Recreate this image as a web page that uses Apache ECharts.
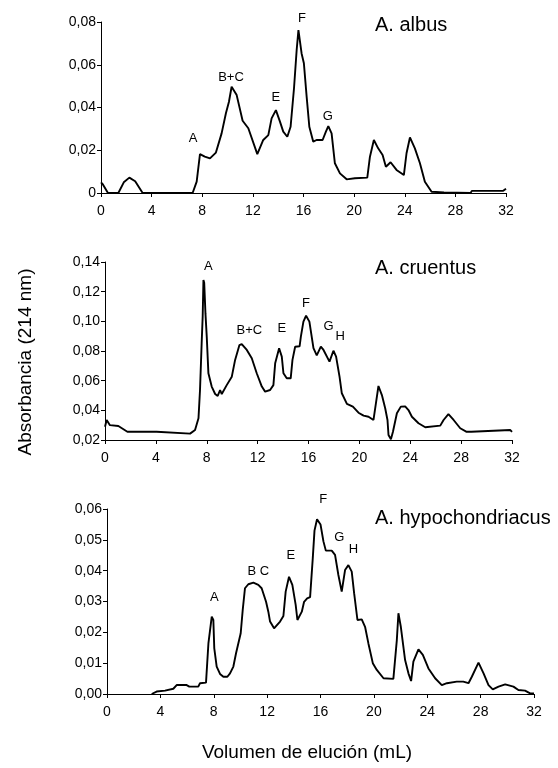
<!DOCTYPE html>
<html>
<head>
<meta charset="utf-8">
<script src="https://cdn.jsdelivr.net/npm/echarts@6/dist/echarts.min.js"></script>
<style>
  html, body { margin: 0; padding: 0; background: #fff; }
  #chart { width: 558px; height: 768px; }
</style>
</head>
<body>
<div id="chart"></div>
<script>
// elution volume (mL) and absorbance
var albusX = [0, 0.15, 0.55, 1.37, 1.8, 2.24, 2.7, 3.29, 7.24, 7.56, 7.82, 7.95, 8.2, 8.61, 9.08, 9.53, 9.87, 10.11, 10.32, 10.45, 10.72, 11.19, 11.64, 12.35, 12.82, 13.22, 13.48, 13.82, 14.14, 14.4, 14.72, 14.98, 15.25, 15.46, 15.6, 15.85, 16.03, 16.25, 16.46, 16.77, 17.03, 17.51, 17.77, 17.96, 18.22, 18.48, 18.88, 19.41, 20.06, 21.04, 21.25, 21.56, 21.9, 22.25, 22.51, 22.88, 23.35, 23.93, 24.14, 24.41, 24.8, 25.2, 25.59, 26.12, 27.1, 29.2, 29.3, 31.78, 32];
var albusY = [0.005, 0.004, 0, 0, 0.005, 0.0072, 0.0055, 0, 0, 0.0053, 0.0182, 0.0183, 0.017, 0.0162, 0.0189, 0.0279, 0.0373, 0.0427, 0.0497, 0.05, 0.0458, 0.0338, 0.0303, 0.0182, 0.0248, 0.0271, 0.0349, 0.0388, 0.0334, 0.0287, 0.0263, 0.031, 0.049, 0.0669, 0.0762, 0.0653, 0.0607, 0.045, 0.031, 0.024, 0.0248, 0.0248, 0.0287, 0.0313, 0.0279, 0.0139, 0.0092, 0.0064, 0.0069, 0.0072, 0.017, 0.0248, 0.0209, 0.0178, 0.0123, 0.0144, 0.0108, 0.0084, 0.0186, 0.026, 0.0209, 0.0139, 0.0053, 0.0006, 0.0003, 0, 0.001, 0.001, 0.002];

var cruentusX = [0, 0.13, 0.39, 1.05, 1.18, 1.76, 4.06, 4.2, 6.69, 7.08, 7.35, 7.47, 7.6, 7.68, 7.74, 7.8, 7.87, 7.9, 8.0, 8.13, 8.39, 8.66, 8.86, 9.05, 9.18, 9.57, 9.97, 10.23, 10.57, 10.75, 11.15, 11.54, 11.93, 12.33, 12.59, 12.98, 13.24, 13.38, 13.69, 13.9, 14.03, 14.29, 14.6, 14.74, 14.95, 15.3, 15.4, 15.6, 15.81, 16.07, 16.39, 16.65, 16.97, 17.18, 17.65, 17.96, 18.17, 18.44, 18.62, 19.02, 19.49, 19.93, 20.33, 20.72, 21.11, 21.3, 21.5, 21.77, 22.03, 22.21, 22.29, 22.48, 22.64, 22.95, 23.26, 23.6, 23.86, 24.13, 24.65, 25.18, 26.36, 26.62, 27.0, 27.41, 27.93, 28.4, 28.8, 28.93, 31.87, 32];
var cruentusY = [0.029, 0.0335, 0.03, 0.0294, 0.0286, 0.0256, 0.0256, 0.0243, 0.0243, 0.0267, 0.0346, 0.0537, 0.0852, 0.1032, 0.1279, 0.126, 0.1268, 0.105, 0.0897, 0.065, 0.056, 0.051, 0.0497, 0.0537, 0.051, 0.057, 0.0627, 0.074, 0.084, 0.0847, 0.0807, 0.0751, 0.065, 0.056, 0.0526, 0.0537, 0.057, 0.0717, 0.0818, 0.0762, 0.065, 0.0616, 0.0616, 0.074, 0.0829, 0.0832, 0.0897, 0.0998, 0.1038, 0.0998, 0.082, 0.077, 0.0829, 0.0807, 0.0728, 0.0802, 0.0762, 0.0627, 0.0515, 0.0443, 0.0425, 0.0384, 0.0364, 0.0357, 0.0335, 0.0447, 0.0564, 0.0503, 0.0414, 0.0335, 0.0234, 0.0205, 0.0256, 0.038, 0.0425, 0.0427, 0.0402, 0.0357, 0.0313, 0.0286, 0.0297, 0.0335, 0.0375, 0.0335, 0.0279, 0.0256, 0.0256, 0.0267, 0.0267, 0.0255];

var hypoX = [3.35, 3.72, 4.35, 4.47, 4.97, 5.22, 5.97, 6.17, 6.84, 6.97, 7.1, 7.42, 7.6, 7.85, 7.97, 8.04, 8.22, 8.47, 8.72, 9.02, 9.22, 9.47, 9.67, 10.02, 10.17, 10.34, 10.59, 10.97, 11.34, 11.59, 11.92, 12.09, 12.22, 12.52, 12.97, 13.22, 13.39, 13.64, 13.89, 14.14, 14.27, 14.4, 14.6, 14.77, 15.0, 15.22, 15.42, 15.55, 15.74, 16.0, 16.22, 16.4, 16.84, 17.09, 17.34, 17.59, 17.84, 18.09, 18.34, 18.52, 18.77, 19.09, 19.34, 19.59, 19.92, 20.22, 20.72, 21.46, 21.72, 21.84, 22.02, 22.34, 22.59, 22.79, 22.96, 23.34, 23.67, 24.09, 24.59, 25.09, 25.47, 26.21, 26.7, 27.09, 27.34, 27.84, 28.22, 28.59, 28.91, 29.34, 29.84, 30.46, 30.83, 31.33, 31.71, 32];
var hypoY = [0, 0.0008, 0.0011, 0.0016, 0.0017, 0.0029, 0.0029, 0.0024, 0.0024, 0.0035, 0.0029, 0.0037, 0.0164, 0.0251, 0.024, 0.0148, 0.0089, 0.0065, 0.0056, 0.0056, 0.0067, 0.0089, 0.0132, 0.0197, 0.0272, 0.0343, 0.0356, 0.0361, 0.0354, 0.0343, 0.0299, 0.0267, 0.0235, 0.0213, 0.0235, 0.0253, 0.0332, 0.038, 0.0354, 0.0289, 0.024, 0.024, 0.0267, 0.0299, 0.031, 0.0314, 0.044, 0.053, 0.0567, 0.055, 0.0495, 0.0465, 0.0465, 0.0451, 0.0386, 0.0332, 0.0402, 0.0418, 0.0397, 0.0327, 0.024, 0.0242, 0.0218, 0.0164, 0.01, 0.0078, 0.0051, 0.0049, 0.0175, 0.0262, 0.0218, 0.011, 0.0067, 0.0042, 0.0105, 0.0145, 0.0127, 0.0083, 0.0051, 0.0029, 0.0035, 0.004, 0.004, 0.0035, 0.0056, 0.0102, 0.0067, 0.0029, 0.0015, 0.0024, 0.0031, 0.0024, 0.0013, 0.0011, 0.0002, 0.0002];

// peak letters: [label, volume, absorbance]
var albusPeaks = [['A', 7.27, 0.0257], ['B+C', 10.27, 0.0543], ['E', 13.82, 0.0449], ['F', 15.87, 0.0819], ['G', 17.93, 0.0356]];
var cruentusPeaks = [['A', 8.13, 0.1369], ['B+C', 11.35, 0.0942], ['E', 13.9, 0.0953], ['F', 15.81, 0.1122], ['G', 17.57, 0.0969], ['H', 18.49, 0.0901]];
var hypoPeaks = [['A', 8.04, 0.0314], ['B C', 11.34, 0.0397], ['E', 13.77, 0.0448], ['F', 16.21, 0.0632], ['G', 17.41, 0.0509], ['H', 18.46, 0.0469]];

var titles = ['A. albus', 'A. cruentus', 'A. hypochondriacus'];

var font = 'Liberation Sans';

var zip = function (xs, ys) {
  var res = [];
  for (var i = 0; i < xs.length; i++) res.push([xs[i], ys[i]]);
  return res;
};

// decimal comma like the original
var commaFmt = function (zeroPlain) {
  return function (v) {
    if (zeroPlain && Math.abs(v) < 1e-9) return '0';
    return v.toFixed(2).replace('.', ',');
  };
};

var grids = [
  { left: 101, top: 22, width: 405, height: 171 },
  { left: 105, top: 262, width: 407, height: 178 },
  { left: 107, top: 509, width: 427, height: 185 }
];

var yRanges = [
  { min: 0, max: 0.08, interval: 0.02, zero: true },
  { min: 0.02, max: 0.14, interval: 0.02, zero: false },
  { min: 0, max: 0.06, interval: 0.01, zero: false }
];

var axisLine = { show: true, onZero: false, lineStyle: { color: '#000', width: 1 } };

var xAxes = [], yAxes = [], series = [], titleList = [];
var curves = [zip(albusX, albusY), zip(cruentusX, cruentusY), zip(hypoX, hypoY)];
var peaks = [albusPeaks, cruentusPeaks, hypoPeaks];
var titleTops = [15, 258, 508];

for (var i = 0; i < 3; i++) {
  xAxes.push({
    type: 'value', gridIndex: i, min: 0, max: 32, interval: 4,
    axisLine: axisLine,
    axisTick: { show: true, length: 4, lineStyle: { color: '#000' } },
    axisLabel: { margin: 11, fontSize: 14, color: '#000', fontFamily: font },
    splitLine: { show: false }
  });
  yAxes.push({
    type: 'value', gridIndex: i,
    min: yRanges[i].min, max: yRanges[i].max, interval: yRanges[i].interval,
    axisLine: axisLine,
    axisTick: { show: true, length: 4, lineStyle: { color: '#000' } },
    axisLabel: { margin: 5, fontSize: 14, color: '#000', fontFamily: font, formatter: commaFmt(yRanges[i].zero) },
    splitLine: { show: false }
  });
  series.push({
    type: 'line', xAxisIndex: i, yAxisIndex: i,
    data: curves[i], showSymbol: false, symbol: 'none',
    lineStyle: { color: '#000', width: 1.9 },
    animation: false
  });
  // peak letters drawn as labels of invisible points
  series.push({
    type: 'scatter', xAxisIndex: i, yAxisIndex: i, clip: false,
    data: peaks[i].map(function (p) { return { name: p[0], value: [p[1], p[2]] }; }),
    symbolSize: 0, itemStyle: { color: '#000', opacity: 1 },
    label: { show: true, position: 'inside', formatter: '{b}', color: '#000', opacity: 1, fontSize: 13, fontFamily: font },
    emphasis: { disabled: true },
    silent: true, animation: false
  });
  titleList.push({
    text: titles[i], left: 375, top: titleTops[i], padding: 0,
    textStyle: { fontSize: 20, fontWeight: 'normal', color: '#000', fontFamily: font }
  });
}

var option = {
  backgroundColor: '#fff',
  animation: false,
  title: titleList,
  grid: grids,
  xAxis: xAxes,
  yAxis: yAxes,
  series: series,
  graphic: [
    {
      type: 'text', x: 26, y: 362, rotation: Math.PI / 2,
      style: { text: 'Absorbancia (214 nm)', fontSize: 19, fontFamily: font, fill: '#000', align: 'center', verticalAlign: 'middle' }
    },
    {
      type: 'text', x: 307, y: 753,
      style: { text: 'Volumen de elución (mL)', fontSize: 19, fontFamily: font, fill: '#000', align: 'center', verticalAlign: 'middle' }
    }
  ]
};

var chart = echarts.init(document.getElementById('chart'));
chart.setOption(option);
</script>
</body>
</html>
